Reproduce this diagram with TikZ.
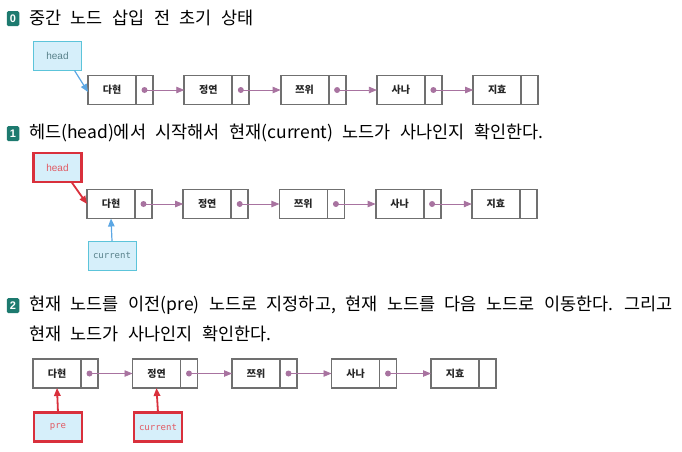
\documentclass[tikz,border=0pt]{standalone}
\usepackage{fontspec}
\setmainfont{Noto Sans CJK KR}
\newfontfamily\krfont{Noto Sans CJK KR}
\newfontfamily\titlefont[WordSpace=2.4]{Noto Sans CJK KR}
\newfontfamily\monofont{DejaVu Sans Mono}
\newfontfamily\labfont{Liberation Sans}
\usetikzlibrary{positioning,arrows.meta}
\definecolor{boxgray}{HTML}{707070}
\definecolor{linkpurple}{HTML}{A873A0}
\definecolor{ptrcyan}{HTML}{5CC4DA}
\definecolor{ptrfill}{HTML}{D6EFFA}
\definecolor{ptrred}{HTML}{D9303C}
\definecolor{badgeteal}{HTML}{1D7A6F}
\tikzset{
  databox/.style={draw=boxgray,line width=1.8pt,minimum width=48pt,minimum height=29pt,
    inner sep=0pt,outer sep=0pt,font=\krfont\bfseries\fontsize{10}{11}\selectfont,text=black!85},
  ptrbox/.style={draw=boxgray,line width=1.8pt,minimum width=17pt,minimum height=29pt,
    inner sep=0pt,outer sep=0pt},
  link/.style={linkpurple,line width=0.8pt,-{Triangle[length=8pt,width=6.5pt]}},
  varbox/.style={fill=ptrfill,minimum width=48pt,minimum height=29pt,inner sep=0pt,outer sep=0pt},
  bluevar/.style={varbox,draw=ptrcyan,line width=1pt},
  redvar/.style={varbox,draw=ptrred,line width=2.2pt},
  bluearrow/.style={draw=ptrcyan!80!blue!90,line width=1.2pt,-{Triangle[length=8pt,width=6.5pt]}},
  redarrow/.style={draw=ptrred,line width=1.8pt,-{Triangle[length=8pt,width=6.5pt]}},
  badge/.style={fill=badgeteal,rounded corners=1.5pt,minimum width=12.5pt,minimum height=15pt,
    inner sep=0pt,text=white,font=\labfont\bfseries\fontsize{11}{11}\selectfont},
  title/.style={anchor=west,inner sep=0pt,font=\titlefont\fontsize{17.5}{20}\selectfont}
}
\begin{document}
\begin{tikzpicture}[x=1pt,y=-1pt]
\useasboundingbox (0,0) rectangle (682,451);
% step titles
\node[badge] (b0) at (13,18.5) {0};
\node[title] (t0) at (29,18) {중간 노드 삽입 전 초기 상태};
\node[badge] (b1) at (13,133.5) {1};
\node[title] (t1) at (29,133) {헤드(head)에서 시작해서 현재(current) 노드가 사나인지 확인한다.};
\node[badge] (b2) at (13,305.5) {2};
\node[title] (t2) at (29,305) {현재 노드를 이전(pre) 노드로 지정하고, 현재 노드를 다음 노드로 이동한다. 그리고};
\node[title] (t2b) at (29,334) {현재 노드가 사나인지 확인한다.};
% the three lists
\foreach \r/\x/\y/\dx in {0/88/90/96.3, 1/87/204/96.2, 2/33/373.5/99.5}{
  \foreach \t [count=\i from 0] in {다현,정연,쯔위,사나,지효}{
    \node[databox,anchor=west] (n\r-\i) at ({\x+\i*\dx},\y) {\t};
    \node[ptrbox,right=0pt of n\r-\i] (p\r-\i) {};
  }
  \foreach \i [evaluate=\i as \j using int(\i+1)] in {0,1,2,3}{
    \fill[linkpurple] (p\r-\i.center) circle (3pt);
    \draw[link] (p\r-\i.center) -- (n\r-\j.west);
  }
}
% step 0
\node[bluevar,font=\labfont\fontsize{10}{10}\selectfont,text=ptrcyan!50!black!80] (h0) at (57.5,56) {head};
\draw[bluearrow] ([xshift=-7pt]h0.south east) -- ([yshift=-2pt]n0-0.west);
% step 1
\node[redvar,font=\labfont\fontsize{10}{10}\selectfont,text=ptrred!80] (h1) at (57.5,167.5) {head};
\draw[redarrow] ([xshift=-10pt]h1.south east) -- (n1-0.west);
\node[bluevar,font=\monofont\fontsize{9}{10}\selectfont,text=ptrcyan!50!black!80] (c1) at (112,255.5) {current};
\draw[bluearrow] (c1.north) -- (n1-0.south);
% step 2
\node[redvar,font=\monofont\fontsize{9}{10}\selectfont,text=ptrred!80] (pr2) at (58,427) {pre};
\draw[redarrow] (pr2.north) -- (n2-0.south);
\node[redvar,font=\monofont\fontsize{9}{10}\selectfont,text=ptrred!80] (c2) at (158,427) {current};
\draw[redarrow] (c2.north) -- (n2-1.south);
\end{tikzpicture}
\end{document}
